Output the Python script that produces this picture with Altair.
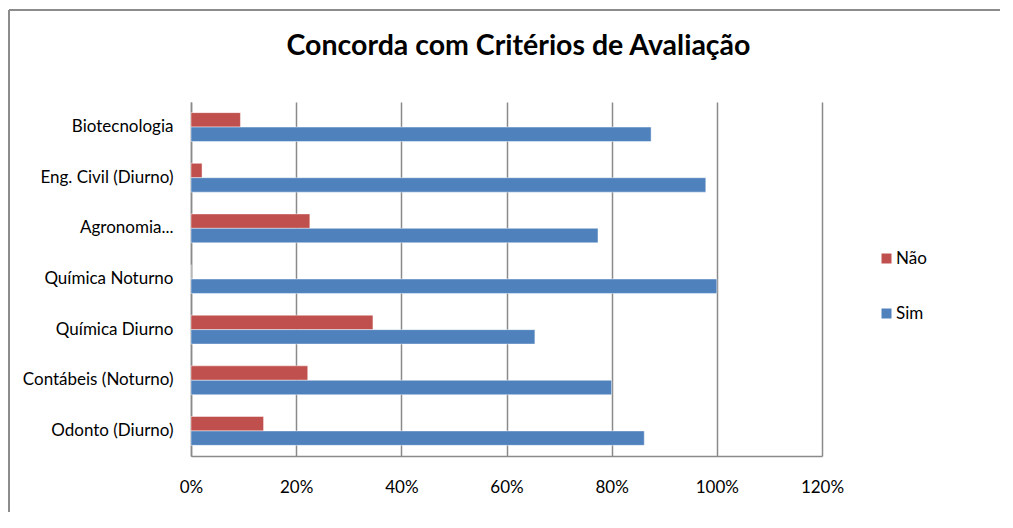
import altair as alt
import pandas as pd

cursos = ["Biotecnologia", "Eng. Civil (Diurno)", "Agronomia...", "Química Noturno",
          "Química Diurno", "Contábeis (Noturno)", "Odonto (Diurno)"]
sim = [0.875, 0.979, 0.774, 1.00, 0.654, 0.800, 0.862]
nao = [0.094, 0.021, 0.226, 0.0, 0.346, 0.222, 0.138]
series = ["Não", "Sim"]
colors = ["#C0504D", "#4F81BD"]
ticks = [0, 0.2, 0.4, 0.6, 0.8, 1.0, 1.2]

rows = []
for c, s, n in zip(cursos, sim, nao):
    rows.append({"curso": c, "serie": "Não", "valor": n})
    rows.append({"curso": c, "serie": "Sim", "valor": s})
df = pd.DataFrame(rows)

W, H = 631, 354
PL, PT = 183, 94
TOTW, TOTH = 996, 504

FONT = "Lato"

bars = alt.Chart(df).mark_bar(stroke="white", strokeOpacity=0.45, strokeWidth=1).encode(
    x=alt.X("valor:Q",
            scale=alt.Scale(domain=[0, 1.2], nice=False),
            axis=alt.Axis(values=ticks, format=".0%", title=None, grid=True,
                          gridColor="#8a8a8a", gridWidth=1.5, domainColor="#8a8a8a",
                          domainWidth=1.5, ticks=False, labelPadding=23, labelFlush=False,
                          labelFontSize=17, labelFont=FONT, labelColor="#000000")),
    y=alt.Y("curso:N", sort=cursos,
            scale=alt.Scale(paddingInner=0.43, paddingOuter=0.21),
            axis=alt.Axis(title=None, ticks=False, domainColor="#8a8a8a", domainWidth=1.5,
                          labelPadding=18, labelFontSize=17, labelFont=FONT,
                          labelColor="#000000", labelLimit=300)),
    yOffset=alt.YOffset("serie:N", sort=series,
                        scale=alt.Scale(paddingInner=0, paddingOuter=0)),
    color=alt.Color("serie:N", sort=series,
                    scale=alt.Scale(domain=series, range=colors),
                    legend=alt.Legend(title=None, orient="none", legendX=687, legendY=148,
                                      symbolType="square", symbolSize=100,
                                      symbolStrokeWidth=0, rowPadding=37,
                                      labelFontSize=17, labelFont=FONT,
                                      labelColor="#000000", labelOffset=1, padding=0)),
)

one = pd.DataFrame({"b": [0]})
top_line = alt.Chart(one).mark_rule(color="#8c8c8c", strokeWidth=2).encode(
    x=alt.value(-PL + 1), x2=alt.value(TOTW - PL - 4), y=alt.value(-PT + 2),
)
left_line = alt.Chart(one).mark_rule(color="#8c8c8c", strokeWidth=2).encode(
    x=alt.value(-PL + 1), y=alt.value(-PT + 2), y2=alt.value(TOTH - PT),
)

chart = alt.layer(top_line, left_line, bars).properties(
    width=W, height=H,
    title=alt.TitleParams("Concorda com Critérios de Avaliação", fontSize=28.5,
                          font=FONT, fontWeight="bold", color="#000000",
                          anchor="middle", dx=12, offset=-74, baseline="alphabetic"),
    autosize=alt.AutoSizeParams(type="none"),
    padding={"left": PL, "top": PT, "right": TOTW - PL - W, "bottom": TOTH - PT - H},
).configure_view(stroke=None)

chart.save("out.html", embed_options={"renderer": "svg", "actions": False})
